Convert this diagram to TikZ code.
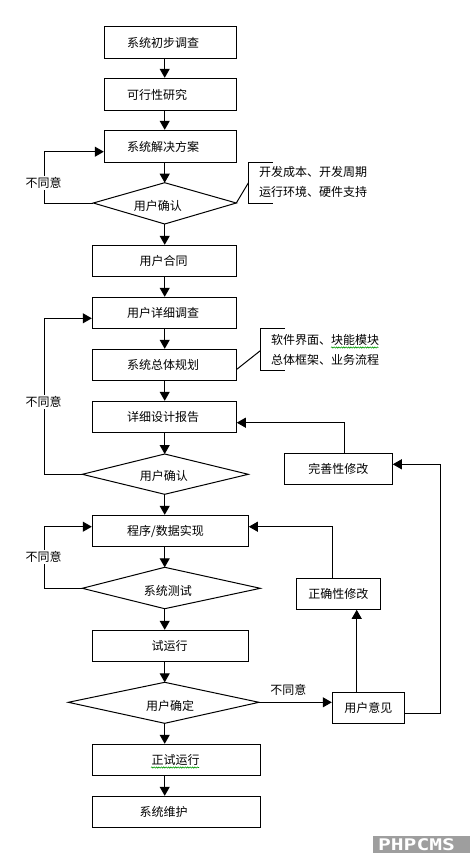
\documentclass[tikz,border=0pt]{standalone}
\usepackage{fontspec}
\setmainfont{Noto Sans CJK SC}
\newfontfamily\wmfont{DejaVu Sans Mono}
\usetikzlibrary{arrows.meta,decorations.pathmorphing}
\begin{document}
\begin{tikzpicture}[x=1pt,y=-1pt,line width=1pt,
  arr/.style={-{Triangle[length=9pt,width=10pt]}},
  box/.style={draw,rectangle,inner sep=0pt},
  txt/.style={anchor=west,inner sep=0pt,font=\fontsize{12}{14}\selectfont},
  ctxt/.style={inner sep=0pt,font=\fontsize{12}{14}\selectfont},
  nolbl/.style={inner sep=1pt,fill=white,font=\fontsize{12}{14}\selectfont},
  wavy/.style={draw=green!60!black,line width=0.6pt,decorate,decoration={snake,amplitude=0.6pt,segment length=2.4pt}}]
\useasboundingbox (0,0) rectangle (471,854);
\fill[white] (0,0) rectangle (471,854);
\coordinate (ax) at (164.7,0);
% main boxes
\node[box,minimum width=132pt,minimum height=32pt] (b1) at (170.3,42.3) {};
\node[txt] (t1) at (126.7,42.8) {系统初步调查};
\node[box,minimum width=132pt,minimum height=31.7pt] (b2) at (170.3,94.15) {};
\node[txt] (t2) at (126.7,94.6) {可行性研究};
\node[box,minimum width=132pt,minimum height=32pt] (b3) at (170.3,146.3) {};
\node[txt] (t3) at (126.7,146.8) {系统解决方案};
% diamond 1
\coordinate (d1t) at (164.7,182.7);
\coordinate (d1l) at (93.3,203);
\coordinate (d1r) at (236.3,203);
\coordinate (d1b) at (164.7,224);
\draw (d1t) -- (d1r) -- (d1b) -- (d1l) -- cycle;
\node[txt] (td1) at (133.3,205.5) {用户确认};
\node[box,minimum width=144pt,minimum height=31pt] (b4) at (164.3,260.8) {};
\node[txt] (t4) at (139,261.3) {用户合同};
\node[box,minimum width=144pt,minimum height=31pt] (b5) at (164.3,312.8) {};
\node[txt] (t5) at (126.7,313.3) {用户详细调查};
\node[box,minimum width=144pt,minimum height=31pt] (b6) at (164.3,364.8) {};
\node[txt] (t6) at (126.7,365.3) {系统总体规划};
\node[box,minimum width=144pt,minimum height=31pt] (b7) at (164.3,416.8) {};
\node[txt] (t7) at (126.7,417.3) {详细设计报告};
% diamond 2
\coordinate (d2t) at (164.7,454);
\coordinate (d2l) at (82.3,474.3);
\coordinate (d2r) at (248.3,474.3);
\coordinate (d2b) at (164.7,494.3);
\draw (d2t) -- (d2r) -- (d2b) -- (d2l) -- cycle;
\node[txt] (td2) at (139.3,476) {用户确认};
\node[box,minimum width=156pt,minimum height=31pt] (b8) at (170.3,530.8) {};
\node[txt] (t8) at (126.7,531.3) {程序/数据实现};
% diamond 3
\coordinate (d3t) at (164.7,567.3);
\coordinate (d3l) at (82.3,588.3);
\coordinate (d3r) at (260.3,588.3);
\coordinate (d3b) at (164.7,608.7);
\draw (d3t) -- (d3r) -- (d3b) -- (d3l) -- cycle;
\node[txt] (td3) at (143.3,590.5) {系统测试};
\node[box,minimum width=156pt,minimum height=31pt] (b9) at (170.3,645.8) {};
\node[txt] (t9) at (151,646.3) {试运行};
% diamond 4
\coordinate (d4t) at (164.7,682.3);
\coordinate (d4l) at (68.3,702.3);
\coordinate (d4r) at (259,702.3);
\coordinate (d4b) at (164.7,723.3);
\draw (d4t) -- (d4r) -- (d4b) -- (d4l) -- cycle;
\node[txt] (td4) at (145.7,705.5) {用户确定};
\node[box,minimum width=168pt,minimum height=31pt] (b10) at (176.3,759.8) {};
\node[txt] (t10) at (151,760.3) {正试运行};
\node[box,minimum width=168pt,minimum height=30.7pt] (b11) at (176.3,811.65) {};
\node[txt] (t11) at (139,812.1) {系统维护};
% right boxes
\node[box,minimum width=108pt,minimum height=31pt,font=\fontsize{12}{14}\selectfont] (r1) at (338.3,468.8) {完善性修改};
\node[box,minimum width=84pt,minimum height=31pt,font=\fontsize{12}{14}\selectfont] (r2) at (338.3,593.8) {正确性修改};
\node[box,minimum width=72pt,minimum height=31pt,font=\fontsize{12}{14}\selectfont] (r3) at (368.3,707.8) {用户意见};
% main flow
\draw[arr] (b1.south -| ax) -- (b2.north -| ax);
\draw[arr] (b2.south -| ax) -- (b3.north -| ax);
\draw[arr] (b3.south -| ax) -- (d1t);
\draw[arr] (d1b) -- (b4.north -| ax);
\draw[arr] (b4.south -| ax) -- (b5.north -| ax);
\draw[arr] (b5.south -| ax) -- (b6.north -| ax);
\draw[arr] (b6.south -| ax) -- (b7.north -| ax);
\draw[arr] (b7.south -| ax) -- (d2t);
\draw[arr] (d2b) -- (b8.north -| ax);
\draw[arr] (b8.south -| ax) -- (d3t);
\draw[arr] (d3b) -- (b9.north -| ax);
\draw[arr] (b9.south -| ax) -- (d4t);
\draw[arr] (d4b) -- (b10.north -| ax);
\draw[arr] (b10.south -| ax) -- (b11.north -| ax);
% left loops
\draw[arr] (d1l) -| (44.3,151.7) -- (b3.west |- 0,151.7);
\draw[arr] (d2l) -| (44.3,318.3) -- (b5.west |- 0,318.3);
\draw[arr] (d3l) -| (44.3,526.7) -- (b8.west |- 0,526.7);
\node[nolbl] (n1) at (43.7,183) {不同意};
\node[nolbl] (n2) at (43.7,402) {不同意};
\node[nolbl] (n3) at (43.7,557) {不同意};
% right side
\draw[arr] (d4r) -- (r3.west |- d4r);
\node[ctxt] (n4) at (288.3,690) {不同意};
\draw[arr] (r3.north -| 356.7,0) -- (r2.south -| 356.7,0);
\draw[arr] (r3.east |- 0,713.3) -| (440.7,464.3) -- (r1.east |- 0,464.3);
\draw[arr] (r1.north -| 344.3,0) |- (b7.east |- 0,422.7);
\draw[arr] (r2.north -| 332.3,0) |- (b8.east |- 0,526.7);
% annotation 1
\draw (272.7,162.7) -- (248.3,162.7) -- (248.3,203) -- (272.7,203);
\coordinate (k1) at (248.3,183);
\draw (d1r) -- (k1);
\node[txt] (a1) at (258.7,172) {开发成本、开发周期};
\node[txt] (a2) at (258.7,192) {运行环境、硬件支持};
% annotation 2
\draw (285,328.3) -- (260.3,328.3) -- (260.3,370.3) -- (285,370.3);
\coordinate (k2) at (260.3,350.7);
\draw (b6.east |- 0,369.3) -- (k2);
\node[txt] (a3) at (270.7,340.3) {软件界面、块能模块};
\node[txt] (a4) at (270.7,359.6) {总体框架、业务流程};
% spell-check squiggles
\path[wavy] (331,347.5) -- (378.3,347.5);
\path[wavy] (151,767.5) -- (199,767.5);
% watermark
\node[fill=black!38,minimum width=97pt,minimum height=17pt,inner sep=0pt] (wm) at (421.5,844.5) {};
\node[text=white,inner sep=0pt,xscale=1.33,font=\wmfont\bfseries\fontsize{16}{16}\selectfont] (wmt) at (416.5,845) {PHPCMS};
\end{tikzpicture}
\end{document}
